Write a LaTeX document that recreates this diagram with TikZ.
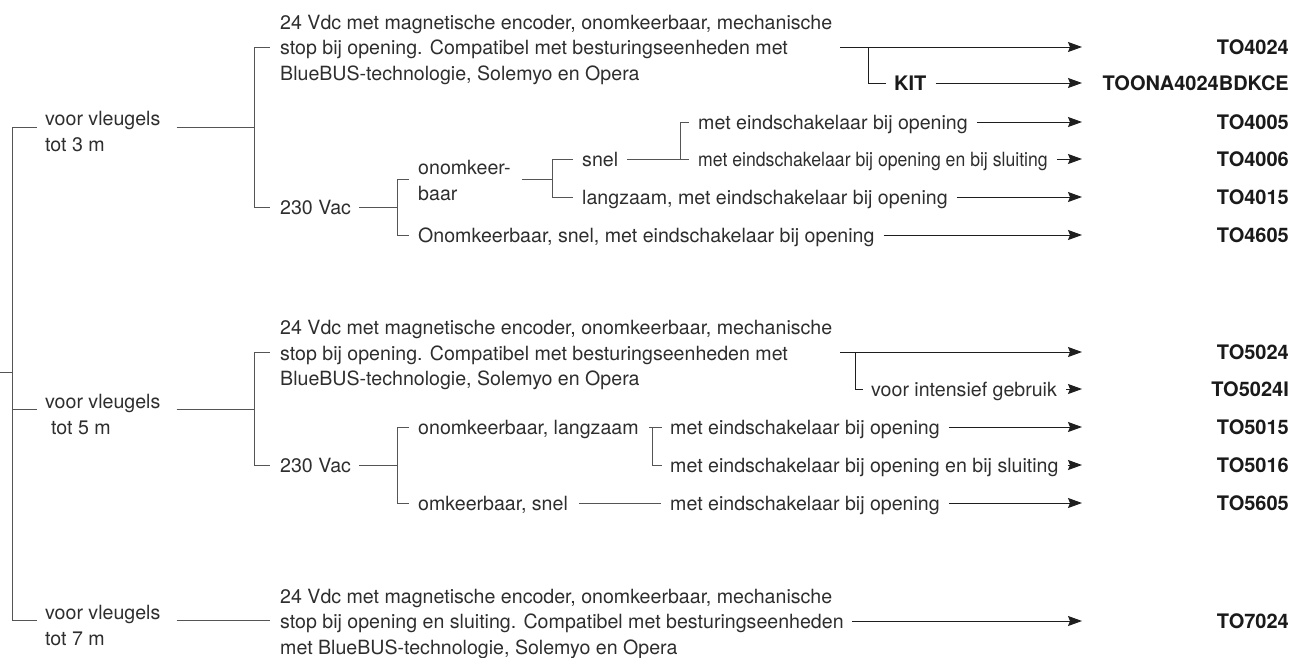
\documentclass[tikz,border=0pt]{standalone}
\usepackage{fontspec}
\usepackage{graphicx}
\setmainfont{TeX Gyre Heros}
\usetikzlibrary{arrows.meta,calc}
\definecolor{txtc}{HTML}{2E2E2E}
\definecolor{codec}{HTML}{1A1A1A}
\definecolor{treec}{HTML}{555555}
\definecolor{arrc}{HTML}{1E1E1E}
\begin{document}
\begin{tikzpicture}[x=1pt,y=-1pt,
  lbl/.style={inner sep=0pt, text=txtc, font=\fontsize{19.6}{25.5}\selectfont, text height=15pt, text depth=1pt, anchor=west},
  mlbl/.style={inner sep=0pt, text=txtc, font=\fontsize{19.6}{25.5}\selectfont, align=left, anchor=base west},
  code/.style={inner sep=0pt, text=codec, font=\fontsize{20}{24}\selectfont\bfseries, text height=15pt, text depth=1pt, anchor=east},
  kitlbl/.style={inner sep=0pt, text=codec, font=\fontsize{20}{24}\selectfont\bfseries, text height=15pt, text depth=1pt, anchor=west},
  tree/.style={draw=treec, line width=1pt},
  aline/.style={draw=arrc, line width=1pt},
  arr/.style={draw=arrc, line width=1pt, -{Stealth[length=14pt,width=10pt,inset=2pt]}}
]
\useasboundingbox (0,0) rectangle (1293,657);
\coordinate (tipx) at (1082,0);

% ---------- trunk ----------
\coordinate (T0) at (0,372);
\coordinate (T1) at (12,372);
\coordinate (T3) at (12,127);
\coordinate (T5) at (12,409);
\coordinate (T7) at (12,620);
\draw[tree] (T3) -- (T7);
\draw[tree] (T0) -- (T1);

% ---------- 3 m ----------
\node[mlbl] (v3) at (45,151) {voor vleugels\\tot 3 m};
\draw[tree] (T3) -- ($(T3 -| v3.west)+(-8,0)$);
\coordinate (J3) at (254,127);
\coordinate (J3a) at (254,47);
\coordinate (J3b) at (254,207);
\draw[tree] ($(J3 -| v3.east)+(16,0)$) -- (J3);
\node[mlbl] (p1) at (280,80) {24 Vdc met magnetische encoder, onomkeerbaar, mechanische\\stop bij opening. Compatibel met besturingseenheden met\\BlueBUS-technologie, Solemyo en Opera};
\node[lbl] (a3) at (280,207) {230 Vac};
\draw[tree] ($(J3a -| p1.west)+(-10,0)$) -- (J3a) -- (J3b) -- ($(a3.west)+(-10,0)$);
\draw[arr] ($(J3a -| p1.east)+(8,0)$) -- (J3a -| tipx);
\node[kitlbl] (kit) at (894,83) {KIT};
\coordinate (K1) at (868,47);
\draw[aline] (K1) -- (K1 |- kit.west) -- ($(kit.west)+(-8,0)$);
\draw[arr] ($(kit.east)+(9,0)$) -- (kit.east -| tipx);

\node[mlbl] (ok) at (418,200) {onomkeer-\\baar};
\node[lbl] (onk) at (418,235) {Onomkeerbaar, snel, met eindschakelaar bij opening};
\coordinate (Q3) at (397,207);
\coordinate (Q3a) at (397,179);
\coordinate (Q3b) at (397,235);
\draw[tree] ($(a3.east)+(8,0)$) -- (Q3);
\draw[tree] ($(Q3a -| ok.west)+(-9,0)$) -- (Q3a) -- (Q3b) -- ($(onk.west)+(-9,0)$);
\draw[arr] ($(onk.east)+(9,0)$) -- (onk.east -| tipx);

\node[lbl] (sn) at (582,159) {snel};
\node[lbl] (lz) at (582,197) {langzaam, met eindschakelaar bij opening};
\coordinate (R3) at (552,179);
\coordinate (R3a) at (552,159);
\coordinate (R3b) at (552,197);
\draw[tree] ($(R3 -| ok.east)+(11,0)$) -- (R3);
\draw[tree] ($(sn.west)+(-9,0)$) -- (R3a) -- (R3b) -- ($(lz.west)+(-9,0)$);
\draw[arr] ($(lz.east)+(9,0)$) -- (lz.east -| tipx);

\node[lbl] (m1) at (698,122) {met eindschakelaar bij opening};
\node[lbl] (m2) at (698,159) {\scalebox{0.9}[1]{met eindschakelaar bij opening en bij sluiting}};
\coordinate (S3) at (680,159);
\coordinate (S3a) at (680,122);
\draw[tree] ($(sn.east)+(9,0)$) -- ($(m2.west)+(-9,0)$);
\draw[tree] (S3) -- (S3a) -- ($(m1.west)+(-9,0)$);
\draw[arr] ($(m1.east)+(9,0)$) -- (m1.east -| tipx);
\draw[arr] ($(m2.east)+(9,0)$) -- (m2.east -| tipx);

\node[code] (c4024) at (1289,47) {TO4024};
\node[code] (ckit) at (1289,83) {TOONA4024BDKCE};
\node[code] (c4005) at (1289,122) {TO4005};
\node[code] (c4006) at (1289,159) {TO4006};
\node[code] (c4015) at (1289,197) {TO4015};
\node[code] (c4605) at (1289,235) {TO4605};

% ---------- 5 m ----------
\node[mlbl] (v5) at (45,434) {voor vleugels\\\hspace*{6pt}tot 5 m};
\draw[tree] (T5) -- ($(T5 -| v5.west)+(-8,0)$);
\coordinate (J5) at (254,409);
\coordinate (J5a) at (254,352);
\coordinate (J5b) at (254,465);
\draw[tree] ($(J5 -| v5.east)+(16,0)$) -- (J5);
\node[mlbl] (p2) at (280,385.5) {24 Vdc met magnetische encoder, onomkeerbaar, mechanische\\stop bij opening. Compatibel met besturingseenheden met\\BlueBUS-technologie, Solemyo en Opera};
\node[lbl] (a5) at (280,465) {230 Vac};
\draw[tree] ($(J5a -| p2.west)+(-10,0)$) -- (J5a) -- (J5b) -- ($(a5.west)+(-10,0)$);
\draw[arr] ($(J5a -| p2.east)+(8,0)$) -- (J5a -| tipx);
\node[lbl] (vi) at (871,389) {voor intensief gebruik};
\coordinate (K2) at (855,352);
\draw[aline] (K2) -- (K2 |- vi.west) -- ($(vi.west)+(-8,0)$);
\draw[arr] ($(vi.east)+(9,0)$) -- (vi.east -| tipx);

\node[lbl] (ol) at (418,427) {onomkeerbaar, langzaam};
\node[lbl] (os) at (418,503) {omkeerbaar, snel};
\coordinate (Q5) at (397,465);
\coordinate (Q5a) at (397,427);
\coordinate (Q5b) at (397,503);
\draw[tree] ($(a5.east)+(8,0)$) -- (Q5);
\draw[tree] ($(ol.west)+(-9,0)$) -- (Q5a) -- (Q5b) -- ($(os.west)+(-9,0)$);

\node[lbl] (m3) at (670,427) {met eindschakelaar bij opening};
\node[lbl] (m4) at (670,465) {met eindschakelaar bij opening en bij sluiting};
\node[lbl] (m5) at (670,503) {met eindschakelaar bij opening};
\coordinate (U5) at (652,427);
\coordinate (U5b) at (652,465);
\draw[tree] ($(ol.east)+(10,0)$) -- ($(m3.west)+(-8,0)$);
\draw[tree] (U5) -- (U5b) -- ($(m4.west)+(-8,0)$);
\draw[tree] ($(os.east)+(11,0)$) -- ($(m5.west)+(-9,0)$);
\draw[arr] ($(m3.east)+(9,0)$) -- (m3.east -| tipx);
\draw[arr] ($(m4.east)+(9,0)$) -- (m4.east -| tipx);
\draw[arr] ($(m5.east)+(9,0)$) -- (m5.east -| tipx);

\node[code] (c5024) at (1289,352) {TO5024};
\node[code] (c5024i) at (1289,389) {TO5024I};
\node[code] (c5015) at (1289,427) {TO5015};
\node[code] (c5016) at (1289,465) {TO5016};
\node[code] (c5605) at (1289,503) {TO5605};

% ---------- 7 m ----------
\node[mlbl] (v7) at (45,645) {voor vleugels\\tot 7 m};
\draw[tree] (T7) -- ($(T7 -| v7.west)+(-8,0)$);
\node[mlbl] (p3) at (280,654) {24 Vdc met magnetische encoder, onomkeerbaar, mechanische\\stop bij opening en sluiting. Compatibel met besturingseenheden\\met BlueBUS-technologie, Solemyo en Opera};
\coordinate (J7) at (270,620);
\draw[tree] ($(J7 -| v7.east)+(16,0)$) -- (J7);
\coordinate (A7) at (850,621);
\draw[arr] ($(A7 -| p3.east)+(8,0)$) -- (A7 -| tipx);
\node[code] (c7024) at (1289,621) {TO7024};
\end{tikzpicture}
\end{document}
